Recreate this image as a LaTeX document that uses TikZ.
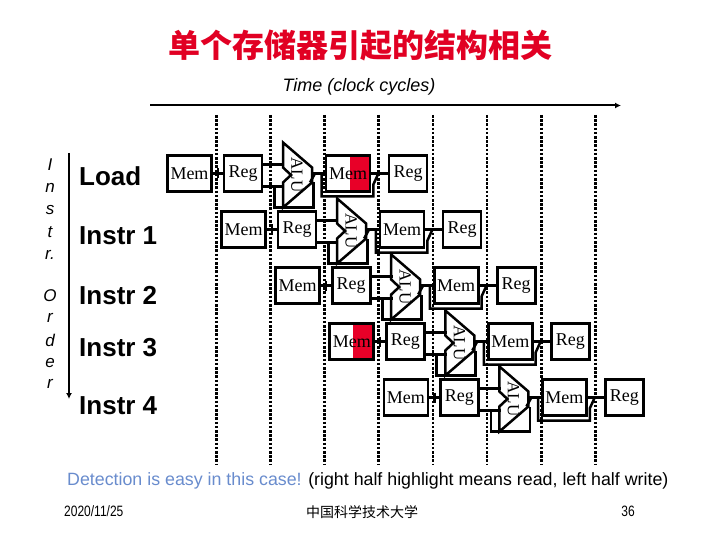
\documentclass[tikz,border=0pt]{standalone}
\usepackage{fontspec}
\setmainfont{Liberation Serif}
\setsansfont{Liberation Sans}
\newfontfamily\cjk{Noto Sans CJK SC}
\usetikzlibrary{arrows.meta,calc}
\definecolor{hired}{RGB}{232,0,40}
\definecolor{titlered}{RGB}{225,0,35}
\definecolor{noteblue}{RGB}{105,140,205}
\begin{document}
\begin{tikzpicture}[x=1pt,y=-1pt,
  wire/.style={line width=2.5pt},
  unit/.style={draw,line width=2.7pt,inner sep=0pt,minimum height=36pt,font=\fontsize{18}{18}\selectfont},
  membox/.style={unit,minimum width=44pt},
  regbox/.style={unit,minimum width=38pt},
  alutext/.style={inner sep=0pt,rotate=-90,font=\fontsize{17}{17}\selectfont},
  clk/.style={line width=2.8pt,dash pattern=on 2.6pt off 1.6pt},
  rowlabel/.style={anchor=west,inner sep=0pt,font=\sffamily\bfseries\fontsize{26}{26}\selectfont},
  sidelet/.style={inner sep=0pt,font=\sffamily\itshape\fontsize{17}{17}\selectfont},
  axis/.style={line width=2pt,-{Latex[length=6pt,width=6pt]}}
]
\useasboundingbox (0,0) rectangle (720,540);

% title
\node[font=\cjk\bfseries\fontsize{32}{32}\selectfont,text=titlered] (title) at (360,45) {单个存储器引起的结构相关};
\node[font=\sffamily\itshape\fontsize{18}{18}\selectfont] (timelbl) at (359,87) {Time (clock cycles)};
\coordinate (tstart) at (150,105.5);
\coordinate (tend) at (621,105.5);
\draw[axis] (tstart) -- (tend);

% clock cycle boundaries
\foreach \k in {0,...,7}{
  \draw[clk] (216.5+54.1*\k,115) -- (216.5+54.1*\k,465);
}

% instruction order axis
\coordinate (ostart) at (69,153);
\coordinate (oend) at (69,399);
\draw[axis] (ostart) -- (oend);
\foreach \ch/\yy [count=\n] in {I/165,n/188,s/210,t/232,r./255,O/296,r/318,d/340,e/363,r/384}{
  \node[sidelet] (let\n) at (50,\yy) {\ch};
}

% row labels
\node[rowlabel] (lload) at (79,176) {Load};
\node[rowlabel] (li1) at (79,236) {Instr 1};
\node[rowlabel] (li2) at (79,296) {Instr 2};
\node[rowlabel] (li3) at (79,348) {Instr 3};
\node[rowlabel] (li4) at (79,406) {Instr 4};

% highlights (right half = read)
\fill[hired] (167+183,155.5) rectangle (167+203,191.5);
\fill[hired] (167+3*54.1+24,173.5+3*56-18) rectangle (167+3*54.1+45,173.5+3*56+18);

% pipeline rows
\foreach \i in {0,...,4}{
  \pgfmathsetmacro\xo{167+54.1*\i}
  \pgfmathsetmacro\cy{173.5+56*\i}
  \pgfmathsetmacro\xa{\xo+116}
  \node[membox] (if\i) at (\xo+22.5,\cy) {Mem};
  \node[regbox] (id\i) at (\xo+76,\cy) {Reg};
  \node[membox] (dm\i) at (\xo+181,\cy) {Mem};
  \node[regbox] (wb\i) at (\xo+241,\cy) {Reg};
  % ALU
  \draw[wire,line join=miter] (\xa,\cy-31) -- (\xa+29,\cy-6) -- (\xa+29,\cy+9) -- (\xa,\cy+34)
     -- (\xa,\cy+9) -- (\xa+8,\cy+1.5) -- (\xa,\cy-6) -- cycle;
  \node[alutext] (alu\i) at (\xa+14,\cy+1.5) {ALU};
  \coordinate (aluout\i) at (\xa+29,\cy);
  % IF -> ID
  \draw[wire] (if\i.east) -- (id\i.west);
  \draw[wire] ($(if\i.east)+(5,-5)$) -- ++(0,10);
  % ID -> ALU
  \draw[wire] ($(id\i.east)+(0,-9)$) -- ++(21,0);
  \draw[wire] ($(id\i.east)+(0,13)$) -- ++(21,0);
  \draw[wire,line join=miter] ($(id\i.east)+(11,13)$) -- ++(0,21) -- ++(39,0) -- ++(0,-25);
  % ALU -> DM
  \draw[wire] (aluout\i) -- (dm\i.west);
  \draw[wire] ($(aluout\i)+(-2,9)$) -- ++(5,-9);
  % DM -> WB
  \draw[wire] (dm\i.east) -- (wb\i.west);
  \draw[wire,line join=miter] ($(dm\i.west)+(-3,0)$) -- ++(0,23) -- ($(dm\i.east)+(2,23)$)
     -- ($(dm\i.east)+(2,11)$) -- ($(dm\i.east)+(7,0)$);
}

% note
\node[anchor=west,inner sep=0pt,font=\sffamily\fontsize{17.8}{17.8}\selectfont] (note) at (67,481)
  {\textcolor{noteblue}{Detection is easy in this case!} (right half highlight means read, left half write)};

% footer
\node[anchor=west,inner sep=0pt,font=\sffamily\fontsize{15}{15}\selectfont] (date) at (64,511) {\scalebox{0.8}[1]{2020/11/25}};
\node[font=\cjk\fontsize{14}{14}\selectfont] (school) at (362,512) {中国科学技术大学};
\node[font=\sffamily\fontsize{15}{15}\selectfont] (page) at (628,511) {\scalebox{0.8}[1]{36}};
\end{tikzpicture}
\end{document}
